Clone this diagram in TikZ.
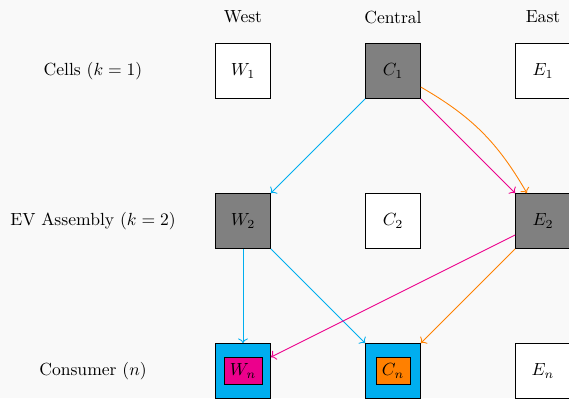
\documentclass[tikz,border=0pt]{standalone}
\usetikzlibrary{arrows.meta}
\definecolor{bgc}{RGB}{249,249,249}
\definecolor{ccyan}{RGB}{0,174,239}
\definecolor{cmag}{RGB}{236,0,140}
\definecolor{corange}{RGB}{255,128,0}
\begin{document}
\begin{tikzpicture}[
  cell/.style={draw, minimum width=1.1cm, minimum height=1.1cm, fill=white},
  active/.style={cell, fill=gray},
  inner/.style={draw, inner sep=3.33pt},
  lab/.style={inner sep=0pt},
  conn/.style={->, line width=0.5pt}
]
\fill[bgc] (-4.86,1.42) rectangle (6.52,-6.54);
\useasboundingbox (-4.86,1.42) rectangle (6.52,-6.54);

\node[lab] (hW) at (0,1.08) {West};
\node[lab] (hC) at (3,1.08) {Central};
\node[lab] (hE) at (6,1.08) {East};

\node[lab] (r1) at (-3,0) {Cells ($k=1$)};
\node[lab] (r2) at (-3,-3) {EV Assembly ($k=2$)};
\node[lab] (r3) at (-3,-6) {Consumer ($n$)};

\node[cell] (W1) at (0,0) {$W_1$};
\node[active] (C1) at (3,0) {$C_1$};
\node[cell] (E1) at (6,0) {$E_1$};

\node[active] (W2) at (0,-3) {$W_2$};
\node[cell] (C2) at (3,-3) {$C_2$};
\node[active] (E2) at (6,-3) {$E_2$};

\node[cell, fill=ccyan] (Wn) at (0,-6) {};
\node[inner, fill=cmag] (Wni) at (Wn.center) {$W_n$};
\node[cell, fill=ccyan] (Cn) at (3,-6) {};
\node[inner, fill=corange] (Cni) at (Cn.center) {$C_n$};
\node[cell] (En) at (6,-6) {$E_n$};

\draw[conn, ccyan] (C1) -- (W2);
\draw[conn, cmag] (C1) -- (E2);
\draw[conn, corange] (C1) to[bend left=15] (E2);
\draw[conn, ccyan] (W2) -- (Wn);
\draw[conn, ccyan] (W2) -- (Cn);
\draw[conn, cmag] (E2) -- (Wn);
\draw[conn, corange] (E2) -- (Cn);
\end{tikzpicture}
\end{document}
